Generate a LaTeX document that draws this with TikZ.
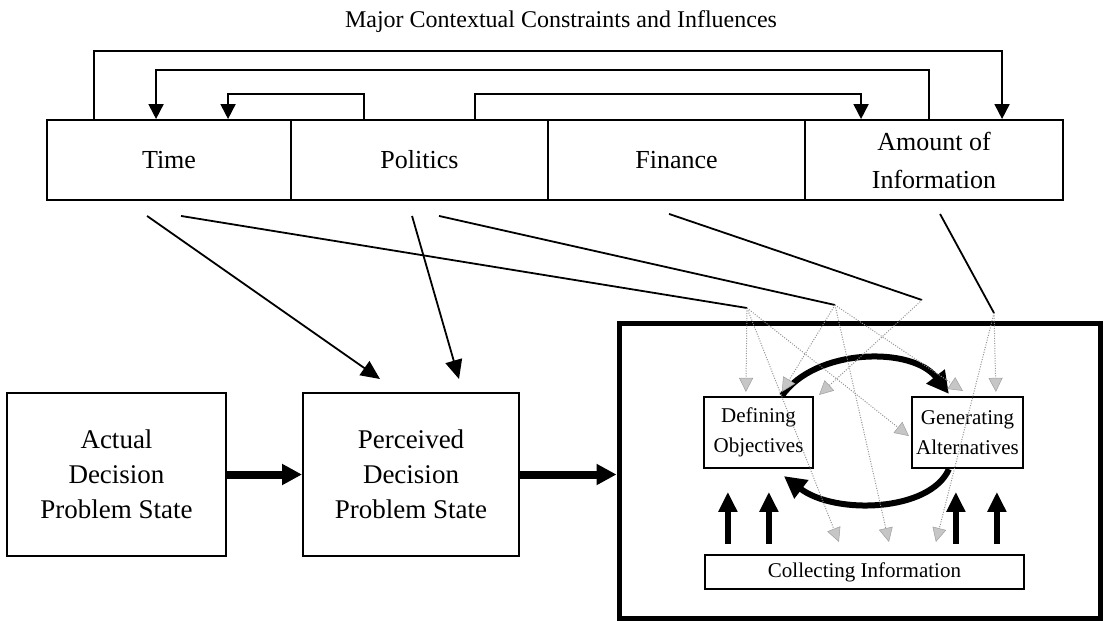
\documentclass[tikz,border=0pt]{standalone}
\usepackage{fontspec}
\setmainfont{Liberation Serif}
\usetikzlibrary{arrows.meta}
\begin{document}
\begin{tikzpicture}[x=1pt,y=-1pt,
  stagebox/.style={draw, line width=2pt, inner sep=0pt, align=center,
    minimum height=163pt, font=\fontsize{27}{35}\selectfont},
  topbox/.style={draw, line width=1.9pt, inner sep=0pt, align=center,
    minimum height=80pt, font=\fontsize{26}{38}\selectfont},
  smallbox/.style={draw, line width=2.2pt, inner sep=0pt, align=center,
    font=\fontsize{21}{30}\selectfont},
  link/.style={line width=1.8pt, -{Triangle[length=15pt,width=15pt]}},
  influence/.style={line width=1.8pt},
  infarrow/.style={line width=1.8pt, -{Triangle[length=19pt,width=17pt]}},
  flow/.style={line width=8pt, -{Triangle[length=20pt,width=20pt]}},
  cyclearrow/.style={line width=6pt, -{Triangle[length=22pt,width=22pt]}},
  lift/.style={line width=6pt, -{Triangle[length=20pt,width=18pt]}},
  dots/.style={gray!85, line width=1pt, dash pattern=on 1pt off 1.5pt,
    -{Triangle[length=14pt,width=14pt,color=gray!75,fill=gray!45,line width=0.5pt]}}
]
\useasboundingbox (0,0) rectangle (1111,621);

% heading
\node[font=\fontsize{24}{28}\selectfont] (title) at (561,22)
  {Major Contextual Constraints and Influences};

% row of constraints
\node[topbox, minimum width=244pt] (time)     at (169,160)   {Time};
\node[topbox, minimum width=257pt] (politics) at (419.5,160) {Politics};
\node[topbox, minimum width=257pt] (finance)  at (676.5,160) {Finance};
\node[topbox, minimum width=258pt] (amount)   at (934,160)   {Amount of\\Information};

% problem states
\node[stagebox, minimum width=219pt] (actual)    at (116.5,474.5) {Actual\\Decision\\Problem State};
\node[stagebox, minimum width=216pt] (perceived) at (411,474.5)   {Perceived\\Decision\\Problem State};

% decision process frame and its parts
\node[draw, line width=5pt, minimum width=481pt, minimum height=295pt, inner sep=0pt]
  (process) at (859.5,470.5) {};
\node[smallbox, minimum width=109pt, minimum height=71pt] (defining)   at (758.5,432.5) {Defining\\Objectives};
\node[smallbox, minimum width=111pt, minimum height=71pt] (generating) at (967.5,432.5) {Generating\\Alternatives};
\node[smallbox, minimum width=319pt, minimum height=34pt] (collecting) at (864.5,572)   {Collecting Information};

% interactions among the constraints
\draw[link] ([xshift=48pt]time.north west) -- ++(0,-68) -| ([xshift=198pt]amount.north west);
\draw[link] ([xshift=125pt]amount.north west) -- ++(0,-49) -| ([xshift=110pt]time.north west);
\draw[link] ([xshift=74pt]politics.north west) -- ++(0,-25) -| ([xshift=182pt]time.north west);
\draw[link] ([xshift=185pt]politics.north west) -- ++(0,-25) -| ([xshift=57pt]amount.north west);

% influences on the perceived state
\draw[infarrow] ([xshift=101pt,yshift=-15pt]time.south west) -- ([xshift=78pt,yshift=13pt]perceived.north west);
\draw[infarrow] ([xshift=122pt,yshift=-15pt]politics.south west) -- ([xshift=157pt,yshift=13pt]perceived.north west);

% influences on the decision process
\coordinate (hubT) at (747,308);
\coordinate (hubP) at (835,305);
\coordinate (hubF) at (922,300);
\coordinate (hubA) at (994,313);
\draw[influence] ([xshift=135pt,yshift=-15pt]time.south west) -- (hubT);
\draw[influence] ([xshift=149pt,yshift=-15pt]politics.south west) -- (hubP);
\draw[influence] ([xshift=122pt,yshift=-13pt]finance.south west) -- (hubF);
\draw[influence] ([xshift=136pt,yshift=-13pt]amount.south west) -- (hubA);

% main flow
\draw[flow] (actual.east) -- (perceived.west);
\draw[flow] (perceived.east) -- (perceived.east -| process.west);

% objectives / alternatives cycle
\draw[cyclearrow] ([xshift=79pt]defining.north west) .. controls (815,348) and (912,346) .. ([xshift=38pt,yshift=2pt]generating.north west);
\draw[cyclearrow] ([xshift=38pt]generating.south west) .. controls (930,512) and (835,515) .. ([xshift=81pt,yshift=-7pt]defining.south west);

% information feeding upward
\draw[lift] ([xshift=24pt,yshift=10pt]collecting.north west) -- ++(0,-52);
\draw[lift] ([xshift=65pt,yshift=10pt]collecting.north west) -- ++(0,-52);
\draw[lift] ([xshift=252pt,yshift=10pt]collecting.north west) -- ++(0,-52);
\draw[lift] ([xshift=293pt,yshift=10pt]collecting.north west) -- ++(0,-52);

% spread of each constraint inside the process
\draw[dots] (hubT) -- ([xshift=43pt,yshift=4pt]defining.north west);
\draw[dots] (hubT) -- ([xshift=-2pt,yshift=-3.5pt]generating.west);
\draw[dots] (hubT) -- ([xshift=135pt,yshift=12pt]collecting.north west);
\draw[dots] (hubP) -- ([xshift=79pt,yshift=4pt]defining.north west);
\draw[dots] (hubP) -- ([xshift=52pt,yshift=5pt]generating.north west);
\draw[dots] (hubP) -- ([xshift=185pt,yshift=12pt]collecting.north west);
\draw[dots] (hubF) -- ([xshift=5pt,yshift=1pt]defining.north east);
\draw[dots] (hubA) -- ([xshift=85pt,yshift=4pt]generating.north west);
\draw[dots] (hubA) -- ([xshift=232pt,yshift=12pt]collecting.north west);
\end{tikzpicture}
\end{document}
